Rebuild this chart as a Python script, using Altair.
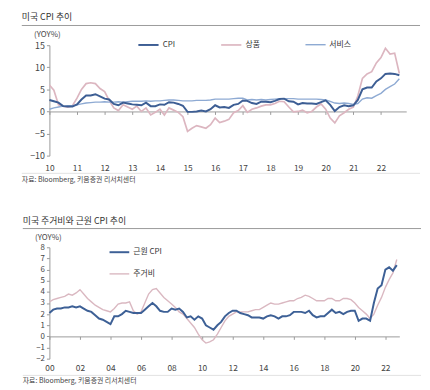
import altair as alt
import pandas as pd

FONT = "Noto Sans CJK KR"

# ---------------- top panel: 미국 CPI 추이 (bi-monthly, 2010-01 .. 2022-09)
top_names = ["CPI", "상품", "서비스"]
top_colors = ["#3d5e94", "#dcb6c0", "#8eaad3"]
top_widths = [2.0, 1.4, 1.6]

cpi = [2.6, 2.3, 2.0, 1.2, 1.1, 1.1,
       1.6, 2.7, 3.6, 3.6, 3.9, 3.4,
       2.9, 2.7, 1.7, 1.4, 2.0, 1.8,
       1.6, 1.5, 1.4, 2.0, 1.2, 1.2,
       1.6, 1.5, 2.1, 2.0, 1.7, 1.3,
       -0.1, -0.1, 0.0, 0.2, 0.0, 0.5,
       1.4, 0.9, 1.0, 0.8, 1.5, 1.7,
       2.5, 2.4, 1.9, 1.7, 2.2, 2.2,
       2.1, 2.4, 2.8, 2.9, 2.3, 2.2,
       1.6, 1.9, 1.8, 1.8, 1.7, 2.1,
       2.5, 1.5, 0.1, 1.0, 1.4, 1.2,
       1.4, 2.6, 5.0, 5.4, 5.4, 6.8,
       7.5, 8.5, 8.6, 8.5, 8.2]
goods = [6.0, 4.8, 1.5, 1.2, 1.0, 1.3,
         3.0, 5.0, 6.3, 6.5, 6.3, 5.2,
         4.5, 2.5, 0.8, 0.2, 1.5, 1.0,
         0.5, 1.2, 0.0, 0.8, -0.8, -0.2,
         0.5, -0.8, 0.8, 0.3, -0.2, -1.2,
         -4.5, -3.8, -3.2, -3.5, -3.8, -3.0,
         -1.5, -2.5, -2.2, -1.8, -0.3, 0.2,
         1.3, -0.2, 0.5, 0.8, 1.2, 1.5,
         1.5, 1.8, 2.3, 2.2, 1.0, -0.1,
         0.0, 0.3, -0.3, 0.0, 1.0, 1.7,
         0.5, -1.5, -2.6, -1.0, -0.3, 0.5,
         1.0, 3.5, 7.5, 8.5, 9.0, 11.0,
         12.2, 14.3, 13.0, 13.2, 8.6]
services = [0.5, 0.8, 1.0, 1.2, 1.3, 1.3,
            1.5, 1.7, 1.9, 2.0, 2.1, 2.1,
            2.2, 2.1, 2.1, 2.2, 2.1, 2.2,
            2.3, 2.3, 2.3, 2.4, 2.3, 2.4,
            2.4, 2.5, 2.6, 2.6, 2.5, 2.4,
            2.4, 2.4, 2.5, 2.5, 2.5, 2.6,
            2.8, 2.8, 2.8, 2.8, 2.9, 3.0,
            3.0, 2.6, 2.7, 2.6, 2.7, 2.6,
            2.7, 2.8, 2.9, 2.9, 2.9, 2.9,
            2.8, 2.8, 2.8, 2.8, 2.8, 2.7,
            2.6, 2.3, 1.9, 1.8, 1.9, 1.8,
            1.6, 1.8, 2.8, 3.1, 3.0, 3.6,
            4.1, 5.0, 5.6, 6.2, 7.4]
top_dates = pd.date_range("2010-01-01", "2022-09-01", freq="2MS")

# ---------------- bottom panel: 미국 주거비와 근원 CPI 추이 (quarterly, 2000-01 .. 2022-10)
bot_names = ["근원 CPI", "주거비"]
bot_colors = ["#3d6096", "#dab8c1"]
bot_widths = [2.0, 1.4]

core = [2.1, 2.4, 2.5, 2.5,
        2.6, 2.6, 2.7, 2.6,
        2.7, 2.5, 2.3, 2.2,
        1.9, 1.6, 1.5, 1.3,
        1.1, 1.8, 1.8, 2.0,
        2.3, 2.2, 2.1, 2.1,
        2.1, 2.4, 2.7, 3.0,
        2.7, 2.3, 2.2, 2.2,
        2.5, 2.4, 2.5, 2.2,
        1.7, 1.8, 1.5, 1.8,
        1.6, 1.0, 0.8, 0.6,
        1.0, 1.3, 1.8, 2.1,
        2.3, 2.3, 2.1, 2.0,
        1.9, 1.7, 1.7, 1.7,
        1.6, 1.8, 1.9, 1.8,
        1.6, 1.8, 1.8, 1.9,
        2.2, 2.2, 2.2, 2.1,
        2.3, 1.9, 1.7, 1.8,
        1.8, 2.1, 2.4, 2.1,
        2.2, 2.0, 2.2, 2.3,
        2.3, 1.4, 1.6, 1.6,
        1.4, 3.0, 4.3, 4.6,
        6.0, 6.2, 5.9, 6.4]
shelter = [3.1, 3.3, 3.4, 3.5,
           3.6, 3.8, 3.7, 3.9,
           4.2, 3.8, 3.4, 3.1,
           2.8, 2.6, 2.4, 2.3,
           2.2, 2.5, 2.9, 3.0,
           3.0, 3.1, 2.3, 2.0,
           2.2, 3.0, 3.8, 4.2,
           4.3, 3.9, 3.5, 3.2,
           2.9, 2.6, 2.2, 2.0,
           1.6, 1.2, 0.8, 0.2,
           -0.3, -0.6, -0.5, -0.3,
           0.2, 0.8, 1.4, 1.8,
           2.0, 2.2, 2.2, 2.2,
           2.2, 2.3, 2.4, 2.4,
           2.6, 2.8, 3.0, 2.9,
           2.9, 3.0, 3.1, 3.2,
           3.2, 3.4, 3.5, 3.7,
           3.6, 3.4, 3.2, 3.2,
           3.2, 3.4, 3.4, 3.2,
           3.2, 3.4, 3.4, 3.3,
           3.0, 2.6, 2.3, 2.0,
           1.6, 2.0, 2.8, 3.5,
           4.4, 5.1, 5.7, 6.9]
bot_dates = pd.date_range("2000-01-01", "2022-10-01", freq="QS")

SOURCE = "자료: Bloomberg, 키움증권 리서치센터"


def long_frame(dates, series):
    frames = []
    for name, vals in series:
        frames.append(pd.DataFrame({"date": dates, "value": vals, "series": name}))
    return pd.concat(frames, ignore_index=True)


df_top = long_frame(top_dates, [("상품", goods), ("서비스", services), ("CPI", cpi)])
df_bot = long_frame(bot_dates, [("주거비", shelter), ("근원 CPI", core)])

one = pd.DataFrame({"a": [0]})


def deco(title, vh_title, rule_y, foot_rule_y, foot_y, x_left, x_right):
    t = alt.Chart(one).mark_text(align="left", baseline="middle", font=FONT, fontSize=9,
                                 color="#333").encode(
        x=alt.value(x_left), y=alt.value(vh_title), text=alt.value(title))
    r = alt.Chart(one).mark_rule(color="#9a9a9a", strokeWidth=1).encode(
        x=alt.value(x_left), x2=alt.value(x_right), y=alt.value(rule_y))
    fr = alt.Chart(one).mark_rule(color="#e2e2e2", strokeWidth=1).encode(
        x=alt.value(x_left), x2=alt.value(x_right), y=alt.value(foot_rule_y))
    ft = alt.Chart(one).mark_text(align="left", baseline="middle", font=FONT, fontSize=7,
                                  color="#444").encode(
        x=alt.value(x_left), y=alt.value(foot_y), text=alt.value(SOURCE))
    return [t, r, fr, ft]


def axis_common(size=9):
    return dict(labelFont=FONT, labelFontSize=size, labelColor="#444", domainColor="#9a9a9a",
                tickColor="#9a9a9a", grid=False)


# top chart
TW, TH = 362, 112
x_top = alt.X("date:T", title=None,
              scale=alt.Scale(domain=[alt.DateTime(year=2010, month=1, date=1),
                                      alt.DateTime(year=2022, month=12, date=1)]),
              axis=alt.Axis(format="%y", tickCount={"interval": "year", "step": 1},
                            offset=-44.8, labelPadding=49.5, tickSize=3, labelFlush=False,
                            **axis_common(8.5)))
y_top = alt.Y("value:Q", scale=alt.Scale(domain=[-10, 15], nice=False),
              axis=alt.Axis(title="(YOY%)", titleAngle=0, titleX=-16, titleY=-11,
                            titleAlign="left", titleBaseline="middle", titleFont=FONT,
                            titleFontSize=8, titleFontWeight="normal", titleColor="#444",
                            values=[-10, -5, 0, 5, 10, 15], tickSize=3, labelPadding=2,
                            **axis_common()))
lines_top = alt.Chart(df_top).mark_line().encode(
    x=x_top, y=y_top,
    color=alt.Color("series:N", scale=alt.Scale(domain=top_names, range=top_colors),
                    legend=alt.Legend(title=None, orient="none", legendX=89, legendY=-12,
                                      direction="horizontal", symbolType="stroke",
                                      symbolSize=420, symbolStrokeWidth=2, labelFont=FONT,
                                      labelFontSize=8, labelColor="#333", columnPadding=42,
                                      labelOffset=3, padding=0)),
    strokeWidth=alt.StrokeWidth("series:N",
                                scale=alt.Scale(domain=top_names, range=top_widths),
                                legend=None),
)
top = alt.layer(*deco("미국 CPI 추이", -29, -20, 130, 137, -28, 376),
                lines_top).properties(width=TW, height=TH)

# bottom chart
BW, BH = 355, 113
x_bot = alt.X("date:T", title=None,
              scale=alt.Scale(domain=[alt.DateTime(year=2000, month=1, date=1),
                                      alt.DateTime(year=2022, month=12, date=1)]),
              axis=alt.Axis(format="%y", tickCount={"interval": "year", "step": 2},
                            offset=-22.6, labelPadding=24.5, tickSize=3, labelFlush=False,
                            **axis_common(8.5)))
y_bot = alt.Y("value:Q", scale=alt.Scale(domain=[-2, 8], nice=False),
              axis=alt.Axis(title="(YOY%)", titleAngle=0, titleX=-15, titleY=-10,
                            titleAlign="left", titleBaseline="middle", titleFont=FONT,
                            titleFontSize=8, titleFontWeight="normal", titleColor="#444",
                            values=list(range(-2, 9)), tickSize=3, labelPadding=2,
                            **axis_common(8)))
lines_bot = alt.Chart(df_bot).mark_line().encode(
    x=x_bot, y=y_bot,
    color=alt.Color("series:N", scale=alt.Scale(domain=bot_names, range=bot_colors),
                    legend=alt.Legend(title=None, orient="none", legendX=60, legendY=-6,
                                      direction="vertical", symbolType="stroke",
                                      symbolSize=400, symbolStrokeWidth=2, labelFont=FONT,
                                      labelFontSize=8, labelColor="#333", rowPadding=7,
                                      labelOffset=3, padding=0)),
    strokeWidth=alt.StrokeWidth("series:N",
                                scale=alt.Scale(domain=bot_names, range=bot_widths),
                                legend=None),
)
bottom = alt.layer(*deco("미국 주거비와 근원 CPI 추이", -27, -19, 130, 136, -27, 377),
                   lines_bot).properties(width=BW, height=BH)

chart = alt.vconcat(top, bottom, spacing=34).resolve_scale(
    color="independent", strokeWidth="independent", x="independent", y="independent"
).configure_view(stroke=None).properties(
    padding={"left": 13, "top": 2, "right": 0, "bottom": 0}, background="white")

chart.save("out.html", embed_options={"renderer": "svg", "actions": False})
